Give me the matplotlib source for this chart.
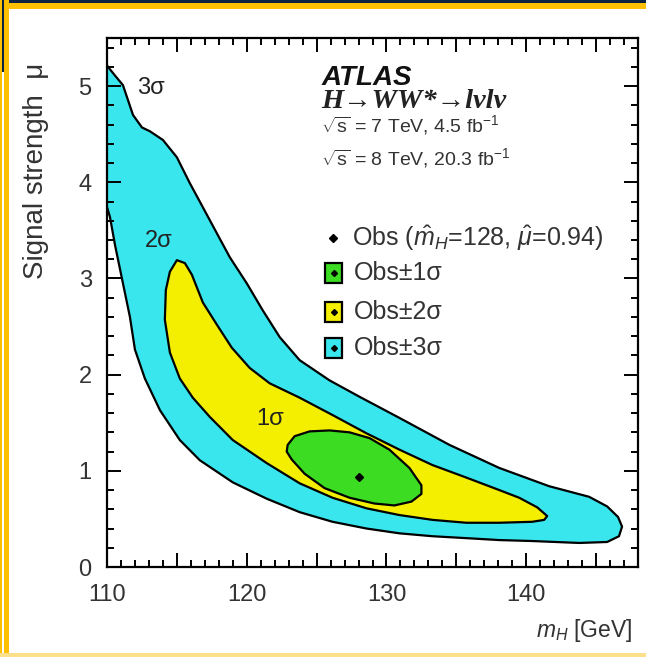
import matplotlib
matplotlib.use("Agg")
import matplotlib.pyplot as plt
from matplotlib import font_manager
from matplotlib.patches import Rectangle, Polygon
from matplotlib.ticker import MultipleLocator, FuncFormatter

# contour boundaries: m_H [GeV], signal strength mu
sig3_mh = [109.86, 110.07, 110.57, 111.14, 111.86, 112.5, 113.07, 114.0, 115.0, 115.93,
           116.86, 117.86, 118.79, 120.0, 121.14, 122.36, 123.79, 125.93, 128.07, 130.93,
           134.5, 138.07, 141.64, 144.5, 145.79, 146.57, 146.86, 146.64, 145.79,
           143.79, 140.43, 138.07, 135.71, 133.29, 130.93, 128.57, 126.14, 123.79, 121.43,
           119.0, 116.64, 115.21, 113.79, 112.71, 112.0, 111.64, 111.14, 110.57, 110.21, 109.86]
sig3_mu = [5.25, 5.20, 5.11, 5.01, 4.70, 4.57, 4.53, 4.44, 4.26, 3.99,
           3.74, 3.47, 3.22, 2.95, 2.67, 2.39, 2.15, 1.94, 1.77, 1.55,
           1.27, 1.03, 0.84, 0.73, 0.63, 0.52, 0.42, 0.32, 0.26,
           0.25, 0.27, 0.28, 0.30, 0.32, 0.35, 0.40, 0.47, 0.57, 0.71,
           0.88, 1.11, 1.32, 1.63, 1.96, 2.26, 2.60, 2.95, 3.35, 3.64, 3.81]

sig2_mh = [115.0, 115.57, 116.07, 116.86, 117.86, 118.93, 120.21, 121.64, 123.79, 126.14,
           128.57, 130.93, 133.29, 135.71, 138.07, 139.5, 140.79, 141.5, 141.29, 140.43,
           138.07, 135.71, 133.29, 130.93, 128.57, 126.14, 123.79, 121.43, 119.0, 117.36,
           116.14, 115.21, 114.5, 114.14, 114.21, 114.5]
sig2_mu = [3.19, 3.16, 3.04, 2.75, 2.52, 2.28, 2.07, 1.91, 1.76, 1.58,
           1.39, 1.22, 1.06, 0.93, 0.80, 0.72, 0.62, 0.53, 0.49, 0.47,
           0.46, 0.46, 0.49, 0.54, 0.61, 0.72, 0.87, 1.08, 1.32, 1.56,
           1.76, 1.96, 2.23, 2.57, 2.88, 3.07]

sig1_mh = [122.93, 123.43, 124.5, 125.93, 127.36, 128.79, 130.21, 131.64, 132.5, 132.5,
           131.79, 130.57, 129.14, 127.36, 125.57, 124.14, 123.21, 122.86]
sig1_mu = [1.27, 1.36, 1.41, 1.42, 1.40, 1.34, 1.22, 1.03, 0.85, 0.76,
           0.68, 0.64, 0.66, 0.72, 0.82, 0.97, 1.12, 1.20]

obs_mh = 128.0
obs_mu = 0.94

label_text = ["3σ", "2σ", "1σ"]
label_mh = [113.14, 113.71, 121.64]
label_mu = [4.98, 3.39, 1.54]

legend_text = ["Obs±1σ", "Obs±2σ", "Obs±3σ"]

c_green = "#3cdc22"
c_yellow = "#f4ee00"
c_cyan = "#3ae6ee"

names = {f.name for f in font_manager.fontManager.ttflist}
narrow = "Liberation Sans Narrow" if "Liberation Sans Narrow" in names else "Liberation Sans"

plt.rcParams["font.family"] = [narrow, "DejaVu Sans"]
plt.rcParams["mathtext.fontset"] = "custom"
plt.rcParams["mathtext.rm"] = narrow
plt.rcParams["mathtext.it"] = narrow + ":italic"
plt.rcParams["mathtext.bf"] = narrow + ":bold"

W, H = 646, 657
fig = plt.figure(figsize=(W / 100, H / 100), dpi=100)
fig.patch.set_facecolor("white")

# slide frame around the screenshot
def fpx(x, y):
  return x / W, 1 - y / H

def frame(x0, y0, x1, y1, color):
  fig.add_artist(Rectangle(fpx(x0, y1), (x1 - x0) / W, (y1 - y0) / H,
                           transform=fig.transFigure, color=color, lw=0, zorder=0))

frame(0, 0, W, 3, "#0b2240")
frame(0, 3, W, 9, "#fcc000")
frame(0, 0, 1.5, H, "#fcc000")
frame(1.5, 0, 3.5, 72, "#0b2240")
frame(3.5, 0, 9, H, "#fcc000")
frame(0, 653, W, H, "#ffe08a")

L, R, T, B = 107, 638, 38, 567
ax = fig.add_axes([L / W, 1 - B / H, (R - L) / W, (B - T) / H])
ax.set_xlim(110, 148)
ax.set_ylim(0, 5.5)

for mh, mu, col in [(sig3_mh, sig3_mu, c_cyan), (sig2_mh, sig2_mu, c_yellow), (sig1_mh, sig1_mu, c_green)]:
  ax.add_patch(Polygon(list(zip(mh, mu)), closed=True, facecolor=col,
                       edgecolor="black", lw=1.6, joinstyle="round"))
ax.plot([obs_mh], [obs_mu], marker="D", ms=4, color="black", ls="none")

for txt, x, y in zip(label_text, label_mh, label_mu):
  ax.text(x, y, txt, fontsize=17, ha="center", va="center", color="#222222")

ax.xaxis.set_major_locator(MultipleLocator(5))
ax.xaxis.set_minor_locator(MultipleLocator(1))
ax.xaxis.set_major_formatter(FuncFormatter(lambda v, p: "%d" % v if round(v) % 10 == 0 else ""))
ax.yaxis.set_major_locator(MultipleLocator(1))
ax.yaxis.set_minor_locator(MultipleLocator(0.2))
ax.tick_params(which="both", direction="in", top=True, right=True, width=1.4, colors="black",
               labelcolor="#333333", labelsize=17)
ax.tick_params(which="major", length=10)
ax.tick_params(which="minor", length=5)
ax.tick_params(axis="x", pad=12)
ax.tick_params(axis="y", pad=11)
for s in ax.spines.values():
  s.set_linewidth(1.6)

fig.text(36 / W, 1 - 63 / H, "Signal strength  μ", rotation=90, ha="center", va="top",
         fontsize=20, family="Liberation Sans", color="#333333")
fig.text(633 / W, 1 - 630 / H, r"$m_{H}$ [GeV]", ha="right", va="center", fontsize=16.5,
         color="#333333")

def apt(px, py):
  return (px - L) / (R - L), (B - py) / (B - T)

ax.text(*apt(322, 78), "ATLAS", transform=ax.transAxes, fontsize=20, fontweight="bold",
        fontstyle="italic", va="center", ha="left", color="#111111")
ax.text(*apt(321, 102), "H→WW*→lνlν", transform=ax.transAxes, fontsize=20.5,
        family="Liberation Serif", fontstyle="italic", fontweight="bold", va="center",
        ha="left", color="#222222")
ax.text(*apt(321, 125), r"$\sqrt{\mathrm{s}}$ = 7 TeV, 4.5 fb$^{-1}$", transform=ax.transAxes,
        fontsize=14, va="center", ha="left", color="#333333")
ax.text(*apt(321, 158), r"$\sqrt{\mathrm{s}}$ = 8 TeV, 20.3 fb$^{-1}$", transform=ax.transAxes,
        fontsize=14, va="center", ha="left", color="#333333")

ax.plot(*apt(333, 238), marker="D", ms=4, color="black", transform=ax.transAxes)
ax.text(*apt(352, 238), r"Obs ($\hat{m}_{H}$=128, $\hat{\mu}$=0.94)", transform=ax.transAxes,
        fontsize=18, va="center", ha="left", color="#333333")

for txt, col, yc in zip(legend_text, [c_green, c_yellow, c_cyan], [273, 312, 348]):
  x0, y0 = apt(325, yc + 10)
  x1, y1 = apt(342, yc - 10)
  ax.add_patch(Rectangle((x0, y0), x1 - x0, y1 - y0, transform=ax.transAxes,
                         facecolor=col, edgecolor="black", lw=1.6))
  ax.plot((x0 + x1) / 2, (y0 + y1) / 2, marker="D", ms=3, color="black", transform=ax.transAxes)
  ax.text(*apt(354, yc), txt, transform=ax.transAxes, fontsize=18, va="center", ha="left",
          color="#333333")

fig.savefig("out.png", dpi=100, facecolor="white")
